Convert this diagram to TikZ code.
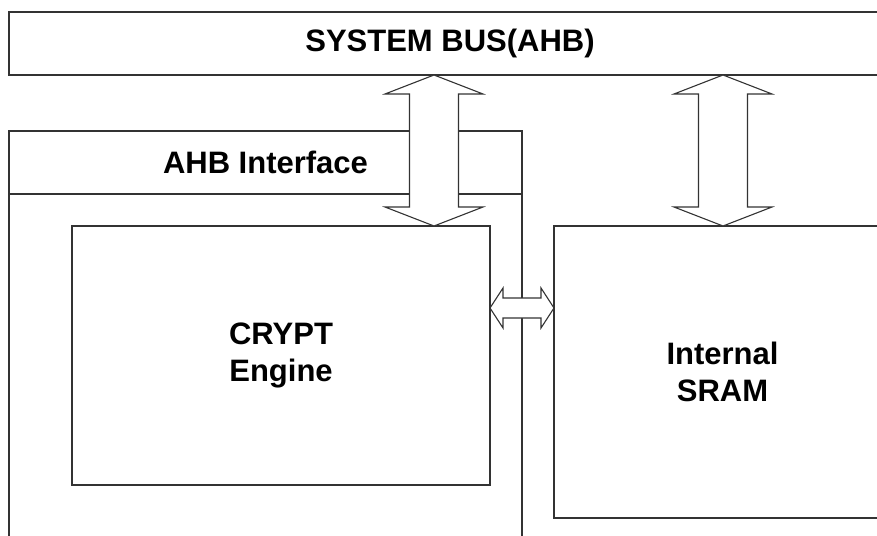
\documentclass[tikz,border=0pt]{standalone}
\usepackage{fontspec}
\setmainfont{Liberation Sans}
\usetikzlibrary{positioning,calc}
% hollow double arrows (top/left point, bottom/right point)
\newcommand{\vbusarrow}[2]{%
  \draw[blockarr] (#1) -- ++(49,19) -- ++(-24.5,0) -- ($(#2)+(24.5,-19)$) -- ++(24.5,0)
    -- (#2) -- ++(-49,-19) -- ++(24.5,0) -- ($(#1)+(-24.5,19)$) -- ++(-24.5,0) -- cycle;}
\newcommand{\hlinkarrow}[2]{%
  \draw[blockarr] (#1) -- ++(13,-20) -- ++(0,10) -- ($(#2)+(-13,-10)$) -- ++(0,-10)
    -- (#2) -- ++(-13,20) -- ++(0,-10) -- ($(#1)+(13,10)$) -- ++(0,10) -- cycle;}

\begin{document}
\begin{tikzpicture}[x=1pt,y=-1pt,
  font=\fontsize{31}{37}\selectfont\bfseries,
  box/.style={draw=black!80,line width=1.3pt,fill=white,align=center,inner sep=0pt,outer sep=0pt},
  side/.style={draw=black!80,line width=1.3pt},
  blockarr/.style={draw=black!80,line width=1.1pt,fill=white,line join=miter}
]
\useasboundingbox (0,0) rectangle (877,535);
\clip (0,0) rectangle (877,535);
\node[box,minimum width=882pt,minimum height=63pt,anchor=north west] (bus) at (9,12) {SYSTEM BUS(AHB)};
\node[box,minimum width=513pt,minimum height=63pt,below right=56pt and 0pt of bus.south west] (ahb) {AHB Interface};
\draw[side] (ahb.south west) -- ++(0,360); \draw[side] (ahb.south east) -- ++(0,360);
\node[box,minimum width=418pt,minimum height=259pt,below right=32pt and 63pt of ahb.south west] (crypt) {CRYPT\\Engine};
\node[box,minimum width=337pt,minimum height=292pt,right=64pt of crypt.north east,anchor=north west] (sram) {Internal\\SRAM};
% bus links
\coordinate (cb) at ($(crypt.north east)+(-56,0)$);
\coordinate (ct) at (cb |- bus.south);
\coordinate (sb) at ($(sram.north west)+(169,0)$);
\coordinate (st) at (sb |- bus.south);
\vbusarrow{ct}{cb}
\vbusarrow{st}{sb}
% engine <-> sram
\coordinate (hl) at ($(crypt.north east)+(0,82)$);
\coordinate (hr) at (sram.west |- hl);
\hlinkarrow{hl}{hr}
\end{tikzpicture}
\end{document}
